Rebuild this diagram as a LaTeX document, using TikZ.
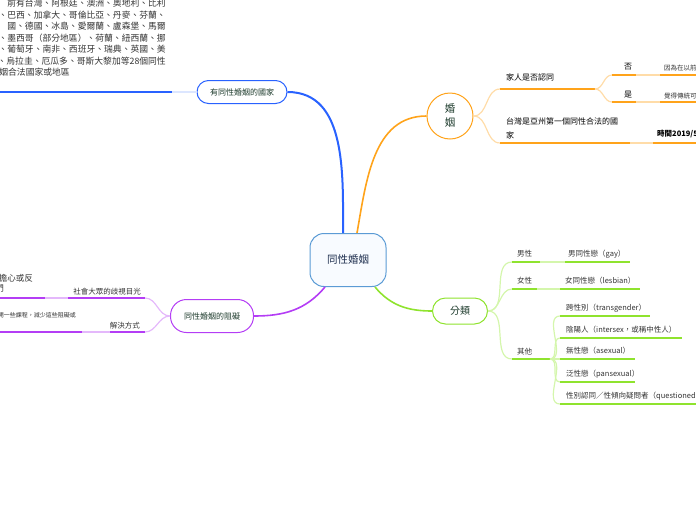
\documentclass[tikz,border=0pt]{standalone}
\usepackage{fontspec}
\setmainfont{Noto Sans CJK TC}
\usetikzlibrary{positioning}

\definecolor{bblue}{HTML}{2962FF}
\definecolor{lblue}{HTML}{DCE6FF}
\definecolor{borange}{HTML}{FFA31A}
\definecolor{lorange}{HTML}{FFDCA8}
\definecolor{bgreen}{HTML}{8FE32E}
\definecolor{lgreen}{HTML}{D4F6AC}
\definecolor{bpurple}{HTML}{B43DF5}
\definecolor{lpurple}{HTML}{E4B8FB}
\definecolor{rootline}{HTML}{5B9BD5}
\definecolor{rootfill}{HTML}{F8FBFF}
\definecolor{rootink}{HTML}{1F2F4F}
\definecolor{topicink}{HTML}{1C3A2B}
\definecolor{leafink}{HTML}{333333}

\begin{document}
\begin{tikzpicture}[x=1pt, y=-1pt,
    root/.style={draw=rootline, line width=1pt, fill=rootfill, rounded corners=14pt,
        minimum width=76pt, minimum height=53pt, text=rootink,
        font=\fontsize{10.5}{12}\selectfont},
    pill/.style={line width=1pt, fill=white, text=topicink, inner sep=0pt,
        font=\fontsize{8}{10}\selectfont},
    lbl/.style={anchor=base west, inner sep=0pt, text=leafink,
        font=\fontsize{7.5}{9}\selectfont},
    rlbl/.style={lbl, anchor=base east},
    uline/.style={line width=1.8pt},
    link/.style={line width=1.2pt},
    trunk/.style={line width=1.6pt}
]
\useasboundingbox (0,0) rectangle (696,520);
\clip (0,0) rectangle (696,520);

% Root
\node[root] (root) at (348,260) {同性婚姻};

% Main topics
\node[pill, draw=bblue, rounded corners=11.5pt, minimum width=90pt, minimum height=23pt] (nations) at (242,92) {有同性婚姻的國家};
\node[pill, draw=borange, circle, minimum size=46pt, align=center, font=\fontsize{10.5}{14}\selectfont] (marriage) at (450,116) {婚\\姻};
\node[pill, draw=bgreen, rounded corners=13pt, minimum width=55pt, minimum height=26pt, font=\fontsize{10}{12}\selectfont] (types) at (460,311) {分類};
\node[pill, draw=bpurple, rounded corners=16pt, minimum width=83pt, minimum height=33pt] (barrier) at (212,316) {同性婚姻的阻礙};

% Trunks (to-angles are on the page: 90 is up)
\draw[trunk, bblue, line width=2pt] (nations.east) to[out=0, in=90] ([xshift=-5pt]root.north);
\draw[trunk, borange] ([xshift=9pt]root.north) to[out=80, in=180] (marriage.west);
\draw[trunk, bgreen] ([xshift=27pt]root.south) to[out=-50, in=180] (types.west);
\draw[trunk, bpurple] ([xshift=-23pt]root.south) to[out=-130, in=0] (barrier.east);

% Countries
\foreach \t [count=\i] in {前有台灣、阿根廷、澳洲、奧地利、比利, 、巴西、加拿大、哥倫比亞、丹麥、芬蘭、, 國、德國、冰島、愛爾蘭、盧森堡、馬爾, 、墨西哥（部分地區）、荷蘭、紐西蘭、挪, 、葡萄牙、南非、西班牙、瑞典、英國、美, 、烏拉圭、厄瓜多、哥斯大黎加等28個同性}
  \node[rlbl, font=\fontsize{8.8}{11.5}\selectfont] (list\i) at (166,-5+11.5*\i) {\t};
\node[rlbl, font=\fontsize{8.8}{11.5}\selectfont] (list7) at (70,75.5) {婚姻合法國家或地區};
\coordinate (list-l) at (-5,92);
\coordinate (list-r) at (172,92);
\draw[uline, bblue] (list-l) -- (list-r);
\draw[uline, lblue] (list-r) -- (nations.west);

% Marriage
\node[lbl, text=black, font=\fontsize{8}{10}\selectfont] (family) at (506,80) {家人是否認同};
\coordinate (family-l) at (500,89);
\coordinate (family-r) at (595,89);
\node[lbl, text=black, anchor=north west, align=left, font=\fontsize{8}{14}\selectfont] (taiwan) at (506,118) {台灣是亞州第一個同性合法的國\\家};
\coordinate (taiwan-l) at (500,143);
\coordinate (taiwan-r) at (630,143);
\draw[link, lorange] (marriage.east) to[out=0, in=180] (family-l);
\draw[link, lorange] (marriage.east) to[out=0, in=180] (taiwan-l);
\draw[uline, borange] (family-l) -- (family-r);
\draw[uline, borange] (taiwan-l) -- (taiwan-r);

\node[lbl, text=black, font=\fontsize{8}{10}\selectfont] (no) at (624,69.5) {否};
\coordinate (no-l) at (612,75);
\coordinate (no-r) at (636,75);
\node[lbl, font=\fontsize{6.5}{8}\selectfont] (nowhy) at (664,70.5) {因為在以前};
\coordinate (nowhy-l) at (660,75);
\coordinate (nowhy-r) at (700,75);
\draw[link, lorange] (family-r) to[out=0, in=180] (no-l);
\draw[uline, borange] (no-l) -- (no-r);
\draw[uline, lorange] (no-r) -- (nowhy-l);
\draw[uline, borange] (nowhy-l) -- (nowhy-r);

\node[lbl, text=black, font=\fontsize{8}{10}\selectfont] (yes) at (624,97.5) {是};
\coordinate (yes-l) at (612,102);
\coordinate (yes-r) at (636,102);
\node[lbl, font=\fontsize{6.5}{8}\selectfont] (yeswhy) at (664,98.5) {覺得傳統可};
\coordinate (yeswhy-l) at (660,102);
\coordinate (yeswhy-r) at (700,102);
\draw[link, lorange] (family-r) to[out=0, in=180] (yes-l);
\draw[uline, borange] (yes-l) -- (yes-r);
\draw[uline, lorange] (yes-r) -- (yeswhy-l);
\draw[uline, borange] (yeswhy-l) -- (yeswhy-r);

\node[lbl, text=black, font=\bfseries\fontsize{7.5}{9}\selectfont] (date) at (657,136.5) {時間2019/5};
\coordinate (date-l) at (653,143);
\coordinate (date-r) at (700,143);
\draw[uline, lorange] (taiwan-r) -- (date-l);
\draw[uline, borange] (date-l) -- (date-r);

% Types
\node[lbl] (male) at (517,256) {男性};
\coordinate (male-l) at (512,262);
\coordinate (male-r) at (540,262);
\node[lbl] (gay) at (568,256) {男同性戀（gay）};
\coordinate (gay-l) at (565,262);
\coordinate (gay-r) at (630,262);

\node[lbl] (female) at (517,283) {女性};
\coordinate (female-l) at (512,289);
\coordinate (female-r) at (537,289);
\node[lbl] (lesbian) at (565,283) {女同性戀（lesbian）};
\coordinate (lesbian-l) at (560,289);
\coordinate (lesbian-r) at (640,289);

\node[lbl] (other) at (517,354) {其他};
\coordinate (other-l) at (512,359);
\coordinate (other-r) at (550,359);

\foreach \a in {male, female, other}
  \draw[link, lgreen] (types.east) to[out=0, in=180] (\a-l);
\draw[uline, bgreen] (male-l) -- (male-r);
\draw[uline, lgreen] (male-r) -- (gay-l);
\draw[uline, bgreen] (gay-l) -- (gay-r);
\draw[uline, bgreen] (female-l) -- (female-r);
\draw[uline, lgreen] (female-r) -- (lesbian-l);
\draw[uline, bgreen] (lesbian-l) -- (lesbian-r);
\draw[uline, bgreen] (other-l) -- (other-r);

\foreach \y/\r/\t [count=\i] in {316/650/跨性別（transgender）, 338/682/陰陽人（intersex，或稱中性人）, 359/635/無性戀（asexual）, 382/635/泛性戀（pansexual）, 404/700/性別認同／性傾向疑問者（questioned}
{
  \coordinate (kind\i-l) at (560,\y);
  \coordinate (kind\i-r) at (\r,\y);
  \node[lbl] (kind\i) at (566,\y-6) {\t};
  \draw[link, lgreen] (other-r) to[out=0, in=180] (kind\i-l);
  \draw[uline, bgreen] (kind\i-l) -- (kind\i-r);
}

% Barriers
\node[rlbl] (stigma) at (141,294) {社會大眾的歧視目光};
\coordinate (stigma-l) at (68,298);
\coordinate (stigma-r) at (145,298);
\node[rlbl, font=\fontsize{8.5}{10}\selectfont] (worry) at (33,281) {擔心或反};
\node[rlbl, font=\fontsize{8.5}{10}\selectfont] (worry2) at (4,291) {們};
\coordinate (worry-l) at (-5,298);
\coordinate (worry-r) at (45,298);

\node[rlbl] (solve) at (140,328) {解決方式};
\coordinate (solve-l) at (110,332);
\coordinate (solve-r) at (145,332);
\node[rlbl, font=\fontsize{6}{7}\selectfont] (course) at (76,317.5) {開一些課程，減少這些阻礙或};
\coordinate (course-l) at (-5,332);
\coordinate (course-r) at (82,332);

\draw[link, lpurple] (barrier.west) to[out=180, in=0] (stigma-r);
\draw[link, lpurple] (barrier.west) to[out=180, in=0] (solve-r);
\draw[uline, bpurple] (stigma-r) -- (stigma-l);
\draw[uline, lpurple] (stigma-l) -- (worry-r);
\draw[uline, bpurple] (worry-r) -- (worry-l);
\draw[uline, bpurple] (solve-r) -- (solve-l);
\draw[uline, lpurple] (solve-l) -- (course-r);
\draw[uline, bpurple] (course-r) -- (course-l);

\end{tikzpicture}
\end{document}
